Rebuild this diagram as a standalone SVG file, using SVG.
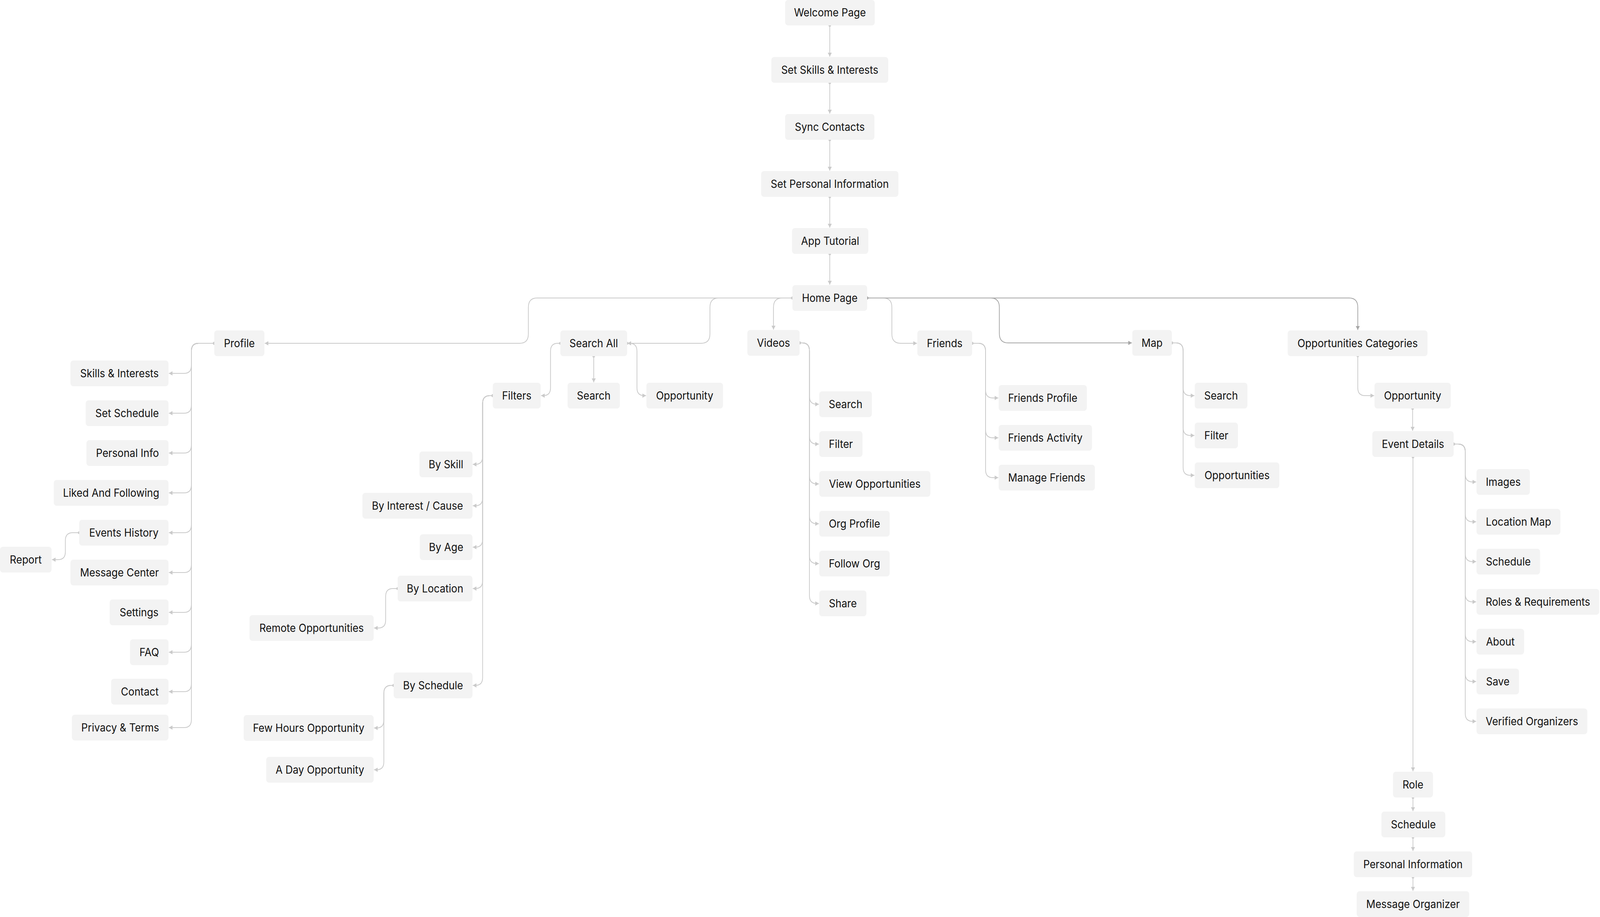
<svg xmlns="http://www.w3.org/2000/svg" width="4406" height="2348" viewBox="0 0 4406 2348" preserveAspectRatio="none">
<style>
svg{width:100vw;height:100vh}
.n rect{fill:#f3f3f3}
.n text{font-family:Inter,"Noto Sans","Liberation Sans",sans-serif;font-size:28px;fill:#111111;text-anchor:middle}
.c path{fill:none;stroke:#cacaca;stroke-width:2;marker-start:url(#dot);marker-end:url(#arr)}
.c path.d{stroke:#a6a6a6;marker-start:url(#dotd);marker-end:url(#arrd)}
</style>
<defs>
<marker id="arr" markerUnits="userSpaceOnUse" markerWidth="11" markerHeight="11" viewBox="0 0 10 11" refX="10" refY="5.5" orient="auto"><path d="M0,0 L10,5.5 L0,11 z" fill="#cacaca"/></marker>
<marker id="arrd" markerUnits="userSpaceOnUse" markerWidth="11" markerHeight="11" viewBox="0 0 10 11" refX="10" refY="5.5" orient="auto"><path d="M0,0 L10,5.5 L0,11 z" fill="#a6a6a6"/></marker>
<marker id="dot" markerUnits="userSpaceOnUse" markerWidth="8" markerHeight="8" viewBox="0 0 8 8" refX="4" refY="4"><circle cx="4" cy="4" r="3.5" fill="#cacaca"/></marker>
<marker id="dotd" markerUnits="userSpaceOnUse" markerWidth="8" markerHeight="8" viewBox="0 0 8 8" refX="4" refY="4"><circle cx="4" cy="4" r="3.5" fill="#a6a6a6"/></marker>
</defs>
<rect x="0" y="0" width="4406" height="2348" fill="#ffffff"/>
<g id="connectors" class="c">
<path d="M2285,65 V145"/>
<path d="M2285,212 V291"/>
<path d="M2285,358 V437"/>
<path d="M2285,504 V583"/>
<path d="M2285,650 V729"/>
<path d="M2182,763 H1479 Q1455,763 1455,787 V855 Q1455,879 1431,879 H729"/>
<path d="M2182,763 H1979 Q1955,763 1955,787 V855 Q1955,879 1931,879 H1728"/>
<path d="M2182,763 H2154 Q2130,763 2130,787 V844"/>
<path d="M2388,763 H2432 Q2456,763 2456,787 V855 Q2456,879 2480,879 H2525"/>
<path class="d" d="M2388,763 H2728 Q2752,763 2752,787 V854 Q2752,878 2776,878 H3117"/>
<path class="d" d="M2388,763 H3715 Q3739,763 3739,787 V845"/>
<path d="M1543,879 H1536 Q1516,879 1516,899 V993 Q1516,1013 1496,1013 H1490"/>
<path d="M1635,912 V979"/>
<path d="M1727,879 H1734 Q1754,879 1754,899 V993 Q1754,1013 1774,1013 H1779"/>
<path d="M590,879 H547 Q527,879 527,899 V936 Q527,956 507,956 H465"/>
<path d="M590,879 H547 Q527,879 527,899 V1038 Q527,1058 507,1058 H465"/>
<path d="M590,879 H547 Q527,879 527,899 V1140 Q527,1160 507,1160 H465"/>
<path d="M590,879 H547 Q527,879 527,899 V1242 Q527,1262 507,1262 H465"/>
<path d="M590,879 H547 Q527,879 527,899 V1344 Q527,1364 507,1364 H465"/>
<path d="M590,879 H547 Q527,879 527,899 V1446 Q527,1466 507,1466 H465"/>
<path d="M590,879 H547 Q527,879 527,899 V1548 Q527,1568 507,1568 H465"/>
<path d="M590,879 H547 Q527,879 527,899 V1650 Q527,1670 507,1670 H465"/>
<path d="M590,879 H547 Q527,879 527,899 V1751 Q527,1771 507,1771 H465"/>
<path d="M590,879 H547 Q527,879 527,899 V1843 Q527,1863 507,1863 H465"/>
<path d="M218,1364 H200 Q180,1364 180,1384 V1413 Q180,1433 160,1433 H143"/>
<path d="M1357,1013 H1349 Q1329,1013 1329,1033 V1169 Q1329,1189 1309,1189 H1302"/>
<path d="M1357,1013 H1349 Q1329,1013 1329,1033 V1275 Q1329,1295 1309,1295 H1302"/>
<path d="M1357,1013 H1349 Q1329,1013 1329,1033 V1381 Q1329,1401 1309,1401 H1302"/>
<path d="M1357,1013 H1349 Q1329,1013 1329,1033 V1487 Q1329,1507 1309,1507 H1302"/>
<path d="M1357,1013 H1349 Q1329,1013 1329,1033 V1735 Q1329,1755 1309,1755 H1302"/>
<path d="M1095,1507 H1082 Q1062,1507 1062,1527 V1588 Q1062,1608 1042,1608 H1030"/>
<path d="M1084,1755 H1077 Q1057,1755 1057,1775 V1844 Q1057,1864 1037,1864 H1030"/>
<path d="M1084,1755 H1077 Q1057,1755 1057,1775 V1951 Q1057,1971 1037,1971 H1030"/>
<path d="M2202,878 H2209 Q2229,878 2229,898 V1015 Q2229,1035 2249,1035 H2255"/>
<path d="M2202,878 H2209 Q2229,878 2229,898 V1117 Q2229,1137 2249,1137 H2255"/>
<path d="M2202,878 H2209 Q2229,878 2229,898 V1219 Q2229,1239 2249,1239 H2255"/>
<path d="M2202,878 H2209 Q2229,878 2229,898 V1321 Q2229,1341 2249,1341 H2255"/>
<path d="M2202,878 H2209 Q2229,878 2229,898 V1423 Q2229,1443 2249,1443 H2255"/>
<path d="M2202,878 H2209 Q2229,878 2229,898 V1525 Q2229,1545 2249,1545 H2255"/>
<path d="M2677,879 H2694 Q2714,879 2714,899 V999 Q2714,1019 2734,1019 H2749"/>
<path d="M2677,879 H2694 Q2714,879 2714,899 V1101 Q2714,1121 2734,1121 H2749"/>
<path d="M2677,879 H2694 Q2714,879 2714,899 V1203 Q2714,1223 2734,1223 H2749"/>
<path d="M3227,878 H3238 Q3258,878 3258,898 V993 Q3258,1013 3278,1013 H3289"/>
<path d="M3227,878 H3238 Q3258,878 3258,898 V1095 Q3258,1115 3278,1115 H3289"/>
<path d="M3227,878 H3238 Q3258,878 3258,898 V1197 Q3258,1217 3278,1217 H3289"/>
<path d="M3739,911 V993 Q3739,1013 3759,1013 H3784"/>
<path d="M3890,1046 V1103"/>
<path d="M4003,1137 H4015 Q4035,1137 4035,1157 V1214 Q4035,1234 4055,1234 H4065"/>
<path d="M4003,1137 H4015 Q4035,1137 4035,1157 V1316 Q4035,1336 4055,1336 H4065"/>
<path d="M4003,1137 H4015 Q4035,1137 4035,1157 V1418 Q4035,1438 4055,1438 H4065"/>
<path d="M4003,1137 H4015 Q4035,1137 4035,1157 V1521 Q4035,1541 4055,1541 H4065"/>
<path d="M4003,1137 H4015 Q4035,1137 4035,1157 V1623 Q4035,1643 4055,1643 H4065"/>
<path d="M4003,1137 H4015 Q4035,1137 4035,1157 V1725 Q4035,1745 4055,1745 H4065"/>
<path d="M4003,1137 H4015 Q4035,1137 4035,1157 V1827 Q4035,1847 4055,1847 H4065"/>
<path d="M3891,1170 V1975"/>
<path d="M3891,2042 V2077"/>
<path d="M3891,2144 V2179"/>
<path d="M3891,2246 V2281"/>
</g>
<g id="welcome" class="n"><rect x="2162" y="0" width="247" height="65" rx="8"/><text x="2285.5" y="42">Welcome Page</text></g>
<g id="set-skills" class="n"><rect x="2124" y="146" width="322" height="66" rx="8"/><text x="2285" y="189">Set Skills &amp; Interests</text></g>
<g id="sync" class="n"><rect x="2162" y="292" width="246" height="66" rx="8"/><text x="2285" y="335">Sync Contacts</text></g>
<g id="set-personal" class="n"><rect x="2096" y="438" width="378" height="66" rx="8"/><text x="2285" y="481">Set Personal Information</text></g>
<g id="tutorial" class="n"><rect x="2181" y="584" width="210" height="66" rx="8"/><text x="2286" y="627">App Tutorial</text></g>
<g id="home" class="n"><rect x="2182" y="730" width="206" height="66" rx="8"/><text x="2285" y="773">Home Page</text></g>
<g id="profile" class="n"><rect x="590" y="846" width="138" height="66" rx="8"/><text x="659" y="889">Profile</text></g>
<g id="search-all" class="n"><rect x="1543" y="846" width="184" height="66" rx="8"/><text x="1635" y="889">Search All</text></g>
<g id="videos" class="n"><rect x="2058" y="845" width="144" height="66" rx="8"/><text x="2130" y="888">Videos</text></g>
<g id="friends" class="n"><rect x="2526" y="846" width="151" height="66" rx="8"/><text x="2601.5" y="889">Friends</text></g>
<g id="map" class="n"><rect x="3118" y="845" width="109" height="66" rx="8"/><text x="3172.5" y="888">Map</text></g>
<g id="opp-categories" class="n"><rect x="3546" y="846" width="385" height="66" rx="8"/><text x="3738.5" y="889">Opportunities Categories</text></g>
<g id="filters" class="n"><rect x="1357" y="980" width="132" height="66" rx="8"/><text x="1423" y="1023">Filters</text></g>
<g id="sa-search" class="n"><rect x="1563" y="980" width="144" height="66" rx="8"/><text x="1635" y="1023">Search</text></g>
<g id="sa-opportunity" class="n"><rect x="1780" y="980" width="211" height="66" rx="8"/><text x="1885.5" y="1023">Opportunity</text></g>
<g id="p-skills" class="n"><rect x="194" y="923" width="270" height="66" rx="8"/><text x="329" y="966">Skills &amp; Interests</text></g>
<g id="p-schedule" class="n"><rect x="236" y="1025" width="228" height="66" rx="8"/><text x="350" y="1068">Set Schedule</text></g>
<g id="p-info" class="n"><rect x="238" y="1127" width="226" height="66" rx="8"/><text x="351" y="1170">Personal Info</text></g>
<g id="p-liked" class="n"><rect x="148" y="1229" width="316" height="66" rx="8"/><text x="306" y="1272">Liked And Following</text></g>
<g id="p-events" class="n"><rect x="218" y="1331" width="246" height="66" rx="8"/><text x="341" y="1374">Events History</text></g>
<g id="p-message" class="n"><rect x="194" y="1433" width="270" height="66" rx="8"/><text x="329" y="1476">Message Center</text></g>
<g id="p-settings" class="n"><rect x="302" y="1535" width="162" height="66" rx="8"/><text x="383" y="1578">Settings</text></g>
<g id="p-faq" class="n"><rect x="358" y="1637" width="106" height="66" rx="8"/><text x="411" y="1680">FAQ</text></g>
<g id="p-contact" class="n"><rect x="306" y="1738" width="158" height="66" rx="8"/><text x="385" y="1781">Contact</text></g>
<g id="p-privacy" class="n"><rect x="198" y="1830" width="266" height="66" rx="8"/><text x="331" y="1873">Privacy &amp; Terms</text></g>
<g id="report" class="n"><rect x="0" y="1400" width="142" height="66" rx="8"/><text x="71" y="1443">Report</text></g>
<g id="f-skill" class="n"><rect x="1155" y="1156" width="146" height="66" rx="8"/><text x="1228" y="1199">By Skill</text></g>
<g id="f-interest" class="n"><rect x="998" y="1262" width="303" height="66" rx="8"/><text x="1149.5" y="1305">By Interest / Cause</text></g>
<g id="f-age" class="n"><rect x="1156" y="1368" width="145" height="66" rx="8"/><text x="1228.5" y="1411">By Age</text></g>
<g id="f-location" class="n"><rect x="1095" y="1474" width="206" height="66" rx="8"/><text x="1198" y="1517">By Location</text></g>
<g id="f-remote" class="n"><rect x="687" y="1575" width="342" height="66" rx="8"/><text x="858" y="1618">Remote Opportunities</text></g>
<g id="f-schedule" class="n"><rect x="1084" y="1722" width="217" height="66" rx="8"/><text x="1192.5" y="1765">By Schedule</text></g>
<g id="f-fewhours" class="n"><rect x="671" y="1831" width="358" height="66" rx="8"/><text x="850" y="1874">Few Hours Opportunity</text></g>
<g id="f-aday" class="n"><rect x="733" y="1938" width="296" height="66" rx="8"/><text x="881" y="1981">A Day Opportunity</text></g>
<g id="v-search" class="n"><rect x="2256" y="1002" width="145" height="66" rx="8"/><text x="2328.5" y="1045">Search</text></g>
<g id="v-filter" class="n"><rect x="2256" y="1104" width="119" height="66" rx="8"/><text x="2315.5" y="1147">Filter</text></g>
<g id="v-viewopp" class="n"><rect x="2256" y="1206" width="306" height="66" rx="8"/><text x="2409" y="1249">View Opportunities</text></g>
<g id="v-orgprofile" class="n"><rect x="2256" y="1308" width="194" height="66" rx="8"/><text x="2353" y="1351">Org Profile</text></g>
<g id="v-follow" class="n"><rect x="2256" y="1410" width="194" height="66" rx="8"/><text x="2353" y="1453">Follow Org</text></g>
<g id="v-share" class="n"><rect x="2256" y="1512" width="130" height="66" rx="8"/><text x="2321" y="1555">Share</text></g>
<g id="fr-profile" class="n"><rect x="2750" y="986" width="243" height="66" rx="8"/><text x="2871.5" y="1029">Friends Profile</text></g>
<g id="fr-activity" class="n"><rect x="2750" y="1088" width="257" height="66" rx="8"/><text x="2878.5" y="1131">Friends Activity</text></g>
<g id="fr-manage" class="n"><rect x="2750" y="1190" width="265" height="66" rx="8"/><text x="2882.5" y="1233">Manage Friends</text></g>
<g id="m-search" class="n"><rect x="3290" y="980" width="145" height="66" rx="8"/><text x="3362.5" y="1023">Search</text></g>
<g id="m-filter" class="n"><rect x="3290" y="1082" width="119" height="66" rx="8"/><text x="3349.5" y="1125">Filter</text></g>
<g id="m-opps" class="n"><rect x="3290" y="1184" width="233" height="66" rx="8"/><text x="3406.5" y="1227">Opportunities</text></g>
<g id="opportunity" class="n"><rect x="3785" y="980" width="210" height="66" rx="8"/><text x="3890" y="1023">Opportunity</text></g>
<g id="event-details" class="n"><rect x="3779" y="1104" width="224" height="66" rx="8"/><text x="3891" y="1147">Event Details</text></g>
<g id="e-images" class="n"><rect x="4066" y="1201" width="147" height="66" rx="8"/><text x="4139.5" y="1244">Images</text></g>
<g id="e-locmap" class="n"><rect x="4066" y="1303" width="231" height="66" rx="8"/><text x="4181.5" y="1346">Location Map</text></g>
<g id="e-schedule" class="n"><rect x="4066" y="1405" width="175" height="66" rx="8"/><text x="4153.5" y="1448">Schedule</text></g>
<g id="e-roles" class="n"><rect x="4066" y="1508" width="338" height="66" rx="8"/><text x="4235" y="1551">Roles &amp; Requirements</text></g>
<g id="e-about" class="n"><rect x="4066" y="1610" width="131" height="66" rx="8"/><text x="4131.5" y="1653">About</text></g>
<g id="e-save" class="n"><rect x="4066" y="1712" width="117" height="66" rx="8"/><text x="4124.5" y="1755">Save</text></g>
<g id="e-verified" class="n"><rect x="4066" y="1814" width="305" height="66" rx="8"/><text x="4218.5" y="1857">Verified Organizers</text></g>
<g id="role" class="n"><rect x="3836" y="1976" width="110" height="66" rx="8"/><text x="3891" y="2019">Role</text></g>
<g id="r-schedule" class="n"><rect x="3804" y="2078" width="176" height="66" rx="8"/><text x="3892" y="2121">Schedule</text></g>
<g id="r-personal" class="n"><rect x="3728" y="2180" width="326" height="66" rx="8"/><text x="3891" y="2223">Personal Information</text></g>
<g id="r-message" class="n"><rect x="3736" y="2282" width="310" height="66" rx="8"/><text x="3891" y="2325">Message Organizer</text></g>
</svg>
